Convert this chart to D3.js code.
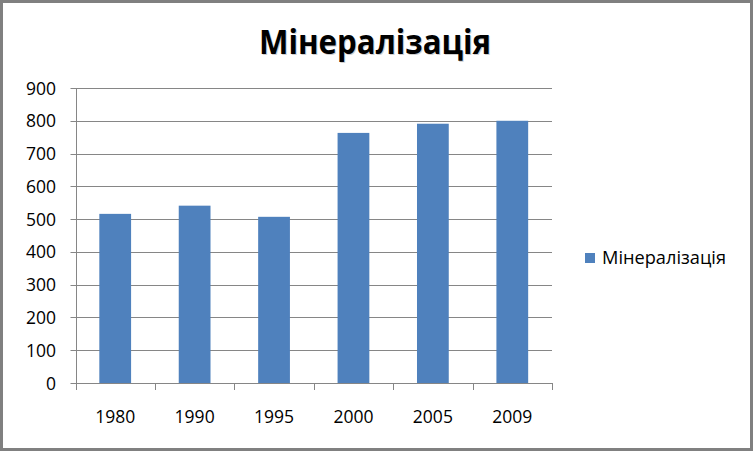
<!DOCTYPE html>
<html lang="uk">
<head>
<meta charset="UTF-8" />
<title>Мінералізація</title>
<script src="https://cdn.jsdelivr.net/npm/d3@7"></script>
<style>
  body { margin: 0; background: #fff; }
  svg text { font-family: "Open Sans", sans-serif; fill: #000; }
</style>
</head>
<body>
<script>
  // data
  var years = ["1980", "1990", "1995", "2000", "2005", "2009"];
  var values = [516, 541, 507, 763, 791, 800];
  var yTicks = [0, 100, 200, 300, 400, 500, 600, 700, 800, 900];
  var seriesName = "Мінералізація";

  var w = 753, h = 451;
  var margin = { top: 88, left: 75.5, right: 201, bottom: 68 };

  var svg = d3.select("body").append("svg")
    .attr("width", w)
    .attr("height", h);

  svg.append("rect")
    .attr("x", 1.5).attr("y", 1.5)
    .attr("width", w - 3).attr("height", h - 3)
    .attr("fill", "#fff")
    .attr("stroke", "#808080")
    .attr("stroke-width", 3);

  var xScale = d3.scaleBand()
    .domain(years)
    .range([margin.left, w - margin.right])
    .padding(0);

  var yScale = d3.scaleLinear()
    .domain([0, 900])
    .range([h - margin.bottom, margin.top]);

  // gridlines
  svg.append("g")
    .selectAll("line")
    .data(yTicks)
    .enter()
    .append("line")
    .attr("x1", margin.left - 5)
    .attr("x2", w - margin.right)
    .attr("y1", function(d) { return Math.round(yScale(d)) + 0.5; })
    .attr("y2", function(d) { return Math.round(yScale(d)) + 0.5; })
    .attr("stroke", "#868686")
    .attr("stroke-width", 1);

  // bars
  var barW = xScale.bandwidth() * 0.4;
  svg.selectAll("rect.bar")
    .data(values)
    .enter()
    .append("rect")
    .attr("class", "bar")
    .attr("x", function(d, i) { return xScale(years[i]) + (xScale.bandwidth() - barW) / 2; })
    .attr("y", function(d) { return yScale(d); })
    .attr("width", barW)
    .attr("height", function(d) { return yScale(0) - yScale(d); })
    .attr("fill", "#4f81bd");

  // y axis line
  svg.append("line")
    .attr("x1", Math.round(margin.left) + 0.5)
    .attr("x2", Math.round(margin.left) + 0.5)
    .attr("y1", margin.top)
    .attr("y2", yScale(0))
    .attr("stroke", "#868686");

  // x tick marks on band edges
  var edges = years.map(function(d) { return xScale(d); }).concat([w - margin.right]);
  svg.append("g")
    .selectAll("line")
    .data(edges)
    .enter()
    .append("line")
    .attr("x1", function(d) { return Math.round(d) + 0.5; })
    .attr("x2", function(d) { return Math.round(d) + 0.5; })
    .attr("y1", yScale(0))
    .attr("y2", yScale(0) + 7)
    .attr("stroke", "#868686");

  // y labels
  svg.append("g")
    .selectAll("text")
    .data(yTicks)
    .enter()
    .append("text")
    .attr("x", 56)
    .attr("y", function(d) { return yScale(d) + 6.5; })
    .attr("text-anchor", "end")
    .style("font-size", "17.5px")
    .text(function(d) { return d; });

  // x labels
  svg.append("g")
    .selectAll("text")
    .data(years)
    .enter()
    .append("text")
    .attr("x", function(d) { return xScale(d) + xScale.bandwidth() / 2; })
    .attr("y", 423)
    .attr("text-anchor", "middle")
    .style("font-size", "17.5px")
    .text(function(d) { return d; });

  // title with a soft shadow
  svg.append("text")
    .attr("x", 376)
    .attr("y", 54.5)
    .attr("text-anchor", "middle")
    .attr("textLength", 232)
    .attr("lengthAdjust", "spacingAndGlyphs")
    .style("font-size", "34px")
    .style("font-weight", "bold")
    .style("fill", "#cfcfcf")
    .text(seriesName);
  svg.append("text")
    .attr("x", 375)
    .attr("y", 53.5)
    .attr("text-anchor", "middle")
    .attr("textLength", 232)
    .attr("lengthAdjust", "spacingAndGlyphs")
    .style("font-size", "34px")
    .style("font-weight", "bold")
    .text(seriesName);

  // legend
  svg.append("rect")
    .attr("x", 585).attr("y", 253)
    .attr("width", 10).attr("height", 10)
    .attr("fill", "#4f81bd");
  svg.append("text")
    .attr("x", 602)
    .attr("y", 264)
    .attr("textLength", 124)
    .attr("lengthAdjust", "spacingAndGlyphs")
    .style("font-size", "17.5px")
    .text(seriesName);
</script>
</body>
</html>
